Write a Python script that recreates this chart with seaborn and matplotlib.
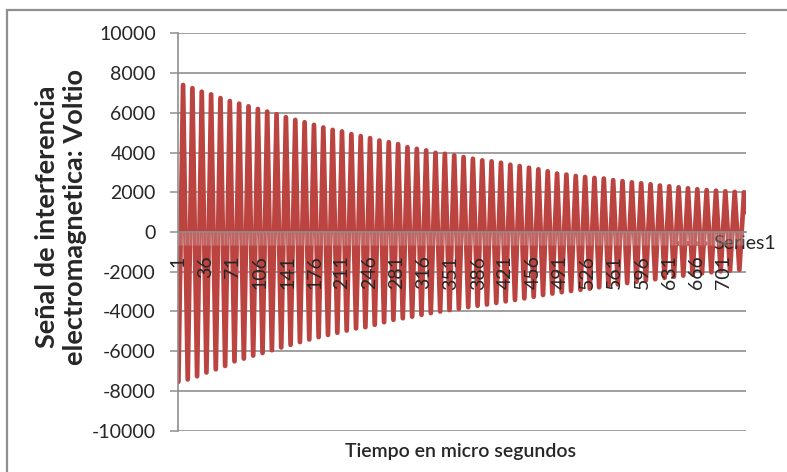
import matplotlib
matplotlib.use("Agg")
import matplotlib.pyplot as plt
from matplotlib.patches import Rectangle
from matplotlib.ticker import MultipleLocator
import numpy as np
import pandas as pd
import seaborn as sns

# Maximum of each oscillation cycle (V)
peak_values = [
    7400, 7240, 7060, 6925, 6740, 6590, 6460, 6325, 6190, 6060, 5925, 5775,
    5640, 5525, 5390, 5260, 5140, 5060, 4925, 4825, 4725,
    4605, 4520, 4420, 4270, 4185, 4105, 3985, 3935, 3855, 3770, 3685, 3605,
    3555, 3485, 3385, 3320, 3235, 3155, 3055,
    2940, 2890, 2820, 2770, 2720, 2690, 2610, 2560, 2500, 2450, 2400, 2340,
    2300, 2250, 2200, 2150, 2110, 2080, 2050, 2020, 2000,
]
# Minimum of each oscillation cycle (V)
trough_values = [
    -7540, -7420, -7260, -7070, -6910, -6740, -6510, -6370, -6220, -6090,
    -5950, -5810, -5680, -5540, -5410, -5290, -5180, -5070, -4960, -4850,
    -4790, -4670, -4540, -4420, -4340, -4260, -4170, -4080, -4000, -3930,
    -3860, -3780, -3710, -3650, -3570, -3490, -3420, -3340, -3260, -3170,
    -3100, -3030, -2970, -2910, -2850, -2780, -2710, -2640, -2570, -2505,
    -2440, -2375, -2310, -2250, -2195, -2140, -2080, -2025, -1980, -1940,
    -1905,
]
# Sample index (microseconds) of each extreme and of the last recorded value
trough_samples = list(range(1, 722, 12))
peak_samples = list(range(7, 728, 12))
last_sample = 729
last_value = 1000
tick_positions = list(range(1, 702, 35))

RED = "#BB4440"
GRAY = "#8f8f8f"

times, volts = [], []
for ts, tv, ps, pv in zip(trough_samples, trough_values, peak_samples, peak_values):
    times += [ts, ps]
    volts += [tv, pv]
times.append(last_sample)
volts.append(last_value)
df = pd.DataFrame({"Tiempo": times, "Voltio": volts})

sns.set_theme(style="white")
plt.rcParams["font.family"] = ["Lato", "DejaVu Sans"]
plt.rcParams["axes.unicode_minus"] = False

fig = plt.figure(figsize=(7.87, 4.72), dpi=100)
rect = [178 / 787, 1 - 430.7 / 472, (746 - 178) / 787, (430.7 - 33.3) / 472]
ax = fig.add_axes(rect)

sns.lineplot(data=df, x="Tiempo", y="Voltio", ax=ax, color=RED, linewidth=3.4,
             label="Series1", errorbar=None, solid_joinstyle="round",
             solid_capstyle="round")

ax.set_xlim(0.5, 729.5)
ax.set_ylim(-10000, 10000)
ax.set_axisbelow(True)
ax.set_yticks(range(-10000, 10001, 2000))
ax.yaxis.grid(True, color=GRAY, linewidth=1.2)
ax.xaxis.grid(False)
ax.set_xlabel("")
ax.set_ylabel("")
ax.tick_params(axis="x", which="both", bottom=False, labelbottom=False)
ax.tick_params(axis="y", direction="out", length=6, width=1.1, color=GRAY,
               pad=10, labelsize=14, left=True)
for side in ("top", "right", "bottom"):
    ax.spines[side].set_visible(False)
ax.spines["left"].set_color(GRAY)
ax.spines["left"].set_linewidth(1.2)

handles, labels = ax.get_legend_handles_labels()
ax.legend(handles, labels, loc="center left", bbox_to_anchor=(676 / 787, 1 - 244 / 472),
          bbox_transform=fig.transFigure, frameon=False, fontsize=14,
          handlelength=1.5, handletextpad=0.4, borderpad=0, borderaxespad=0)

# Category axis drawn over the series, crossing at zero
ax2 = fig.add_axes(rect)
ax2.patch.set_visible(False)
ax2.set_xlim(ax.get_xlim())
ax2.set_ylim(ax.get_ylim())
ax2.set_yticks([])
for side in ("top", "right", "left"):
    ax2.spines[side].set_visible(False)
ax2.spines["bottom"].set_position(("data", 0))
ax2.spines["bottom"].set_color(GRAY)
ax2.spines["bottom"].set_linewidth(1.2)
ax2.set_xticks(tick_positions)
ax2.set_xticklabels([str(t) for t in tick_positions], rotation=90)
ax2.xaxis.set_minor_locator(MultipleLocator(1))
ax2.tick_params(axis="x", which="both", direction="out", length=9, width=0.5,
                color=(0.85, 0.85, 0.85, 0.3), pad=8, labelsize=14, bottom=True)

fig.text(61 / 787, 1 - 217 / 472, "Señal de interferencia\nelectromagnetica: Voltio",
         rotation=90, ha="center", va="center", fontsize=19.5, fontweight="bold",
         linespacing=1.2)
fig.text(461 / 787, 1 - 452 / 472, "Tiempo en micro segundos", ha="center",
         va="center", fontsize=14, fontweight="semibold")

fig.add_artist(Rectangle((7 / 787, -0.2), 1.5, 1.2 - 10 / 472, transform=fig.transFigure,
                         fill=False, edgecolor=GRAY, linewidth=1.6))

fig.savefig("out.png", dpi=100)
